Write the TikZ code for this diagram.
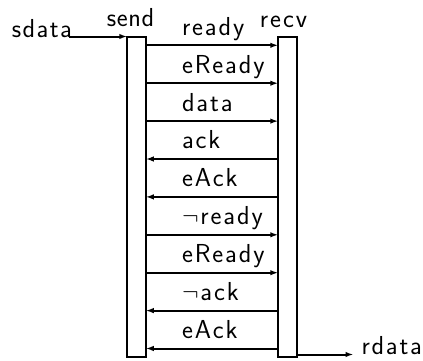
\documentclass[tikz,border=0pt]{standalone}
\usetikzlibrary{arrows.meta}
\def\lsk{1.9pt}
\def\ls#1{\lsA#1\relax}
\def\lsA#1#2{#1\ifx\relax#2\else\kern\lsk\expandafter\lsA\expandafter#2\fi}
\def\nt{$\neg$}
\begin{document}
\begin{tikzpicture}[x=1pt,y=-1pt,
  every node/.style={inner sep=0pt,outer sep=0pt,font=\sffamily\fontsize{26}{30}\selectfont},
  lane/.style={draw,line width=2pt,minimum width=18.5pt,minimum height=320pt},
  lbl/.style={anchor=base west},
  msg/.style={line width=2pt,-{Latex[length=8pt,width=5.5pt]}},
  bmsg/.style={line width=2pt,{Latex[length=8pt,width=5.5pt]}-}]
\useasboundingbox (0,0) rectangle (423,360);
\node[lane] (send) at (136.5,196.5) {};
\node[lane] (recv) at (287.5,196.5) {};
\node[anchor=base] (sendl) at (130.5,26) {\def\lsk{0.6pt}\ls{send}};
\node[anchor=base] (recvl) at (283.5,27) {\def\lsk{2pt}\ls{recv}};
\node[anchor=base west] (sdata) at (12,37.5) {\def\lsk{1.4pt}\ls{sdata}};
\node[anchor=base west] (rdata) at (361.5,354.5) {\def\lsk{1.8pt}\ls{rdata}};
\draw[msg] ([xshift=-3pt]sdata.east |- send.north west) -- (send.north west);
\draw[msg] (recv.east |- rdata.base) -- ([xshift=-8pt]rdata.base west);
% rows
\foreach \i/\y in {1/45.3,2/83.2,3/121.1,4/159,5/196.9,6/234.8,7/272.7,8/310.6,9/348.5}
  \coordinate (r\i) at (0,\y);
\draw[msg]  (send.east |- r1) -- (recv.west |- r1);
\draw[msg]  (send.east |- r2) -- (recv.west |- r2);
\draw[msg]  (send.east |- r3) -- (recv.west |- r3);
\draw[bmsg] (send.east |- r4) -- (recv.west |- r4);
\draw[bmsg] (send.east |- r5) -- (recv.west |- r5);
\draw[msg]  (send.east |- r6) -- (recv.west |- r6);
\draw[msg]  (send.east |- r7) -- (recv.west |- r7);
\draw[bmsg] (send.east |- r8) -- (recv.west |- r8);
\draw[bmsg] (send.east |- r9) -- (recv.west |- r9);
\node[lbl] (l1) at (182,35) {\ls{ready}};
\node[lbl] (l2) at (182,73) {\ls{eReady}};
\node[lbl] (l3) at (182,111) {\ls{data}};
\node[lbl] (l4) at (182,148.8) {\ls{ack}};
\node[lbl] (l5) at (182,186.7) {\ls{eAck}};
\node[lbl] (l6) at (182,224.6) {\ls{\nt ready}};
\node[lbl] (l7) at (182,262.5) {\ls{eReady}};
\node[lbl] (l8) at (182,300.4) {\ls{\nt ack}};
\node[lbl] (l9) at (182,338.3) {\ls{eAck}};
\end{tikzpicture}
\end{document}
